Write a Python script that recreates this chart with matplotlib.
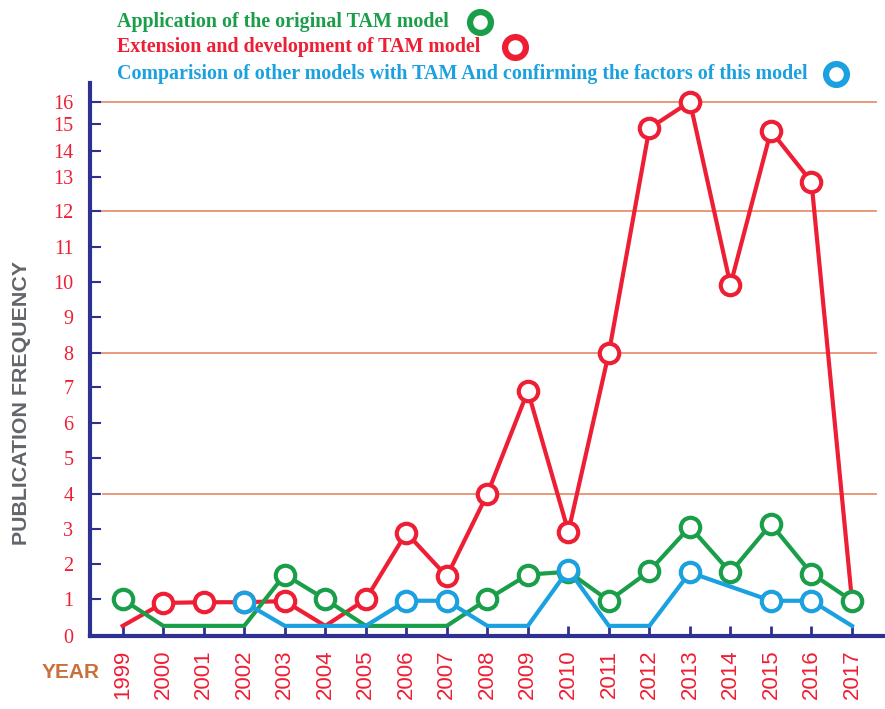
import numpy as np
import matplotlib
matplotlib.use("Agg")
import matplotlib.pyplot as plt
from matplotlib.lines import Line2D

# ---------------- data ----------------
years = list(range(1999, 2018))
year_labels = [str(y) for y in years]

application = [1.0, 0.27, 0.27, 0.27, 1.7, 1.0, 0.27, 0.27, 0.27, 1.0, 1.7, 1.78,
               0.96, 1.8, 3.07, 1.76, 3.15, 1.73, 0.96]
extension = [0.27, 0.9, 0.92, 0.92, 0.95, 0.27, 1.0, 2.9, 1.65, 4.0, 6.88, 2.93,
             8.0, 14.85, 16.0, 9.92, 14.75, 12.85, 0.96]
comparison = [np.nan, np.nan, np.nan, 0.92, 0.27, 0.27, 0.27, 0.96, 0.96, 0.27, 0.27, 1.84,
              0.27, 0.27, 1.76, 1.36, 0.96, 0.96, 0.27]
comparison_marked = [False, False, False, True, False, False, False, True, True, False, False, True,
                     False, False, True, False, True, True, False]

series_names = ["Application of the original TAM model",
                "Extension and development of TAM model",
                "Comparision of other models with TAM And confirming the factors of this model"]

ytick_values = list(range(0, 17))
ytick_labels = [str(v) for v in ytick_values]
grid_values = [4, 8, 12, 16]

# ---------------- styles ----------------
GREEN = "#1a9e4a"
RED = "#ee1f35"
BLUE = "#1ba1df"
NAVY = "#2e3192"
GRID = "#e89070"

# piecewise (non-uniform) y scale of the original chart: value -> height
scale_vals = np.arange(0, 18)
scale_pos = np.array([0, 36.4, 71.7, 106.4, 141.7, 177.4, 213, 249, 283, 318.4,
                      353.7, 389, 424.7, 459, 485, 511.4, 534, 556.6])

def fwd(v):
    return np.interp(v, scale_vals, scale_pos)

def inv(p):
    return np.interp(p, scale_pos, scale_vals)

W, H = 885, 709
fig = plt.figure(figsize=(W / 100, H / 100), dpi=100)
left_px, right_px, bottom_px, top_px = 90, 885, 635.7, 83
ax = fig.add_axes([left_px / W, (H - bottom_px) / H,
                   (right_px - left_px) / W, (bottom_px - top_px) / H])
ax.set_yscale("function", functions=(fwd, inv))
ax.set_ylim(0, inv(bottom_px - top_px))
ax.set_xlim(1999 - 32.7 / 40.5, 2017 + 33 / 40.5)

for s in ["top", "right"]:
    ax.spines[s].set_visible(False)
for s in ["left", "bottom"]:
    ax.spines[s].set_color(NAVY)
    ax.spines[s].set_linewidth(3)

# grid lines
for g in grid_values:
    xs = 1999 - 29.5 / 40.5 if g != 4 else 1999 - 20 / 40.5
    ax.plot([xs, 2017 + 24 / 40.5], [g, g], color=GRID, lw=1.3, zorder=1)

def marks(vals):
    return [v > 0.5 for v in vals]

lw = 3.0
ms = 14
mew = 3.0
ax.plot(years, application, color=GREEN, lw=lw, marker="o", ms=ms, mfc="white",
        mec=GREEN, mew=mew, markevery=marks(application), zorder=3, clip_on=False)
ax.plot(years, comparison, color=BLUE, lw=lw, marker="o", ms=ms, mfc="white",
        mec=BLUE, mew=mew, markevery=comparison_marked, zorder=4, clip_on=False)
ax.plot(years, extension, color=RED, lw=lw, marker="o", ms=ms, mfc="white",
        mec=RED, mew=mew, markevery=marks(extension)[:-1] + [False], zorder=2, clip_on=False)

ax.set_xticks(years)
ax.set_xticklabels(year_labels, rotation=90, color=RED, fontsize=16,
                   family="Liberation Sans")
ax.set_yticks(ytick_values)
ax.set_yticklabels(ytick_labels, color=RED, fontsize=14.5, family="Liberation Serif")
ax.yaxis.set_minor_locator(matplotlib.ticker.NullLocator())
ax.tick_params(axis="y", direction="in", length=8, width=1.5, color=NAVY, pad=12)
ax.tick_params(axis="x", direction="in", length=7, width=2, color=NAVY, pad=10)
ax.set_facecolor("none")

# axis titles
fig.text(22 / W, 1 - 403 / H, "PUBLICATION FREQUENCY", rotation=90, ha="center",
         va="center", color="#62666a", fontsize=15.4, fontweight="bold",
         family="Liberation Sans")
fig.text(42 / W, 1 - 673 / H, "YEAR", ha="left", va="center", color="#c8703e",
         fontsize=15, fontweight="bold", family="Liberation Sans")

# legend
leg_colors = [GREEN, RED, BLUE]
leg_y = [22, 47, 74]
leg_mx = [480, 515, 836]
for name, c, y, mx in zip(series_names, leg_colors, leg_y, leg_mx):
    fig.text(117 / W, 1 - y / H, name, ha="left", va="center", color=c,
             fontsize=14.4, fontweight="bold", family="Liberation Serif")
    fig.add_artist(Line2D([mx / W], [1 - y / H], marker="o", ms=15, mfc="white",
                          mec=c, mew=4.5, transform=fig.transFigure))

fig.savefig("out.png", dpi=100, facecolor="white")
